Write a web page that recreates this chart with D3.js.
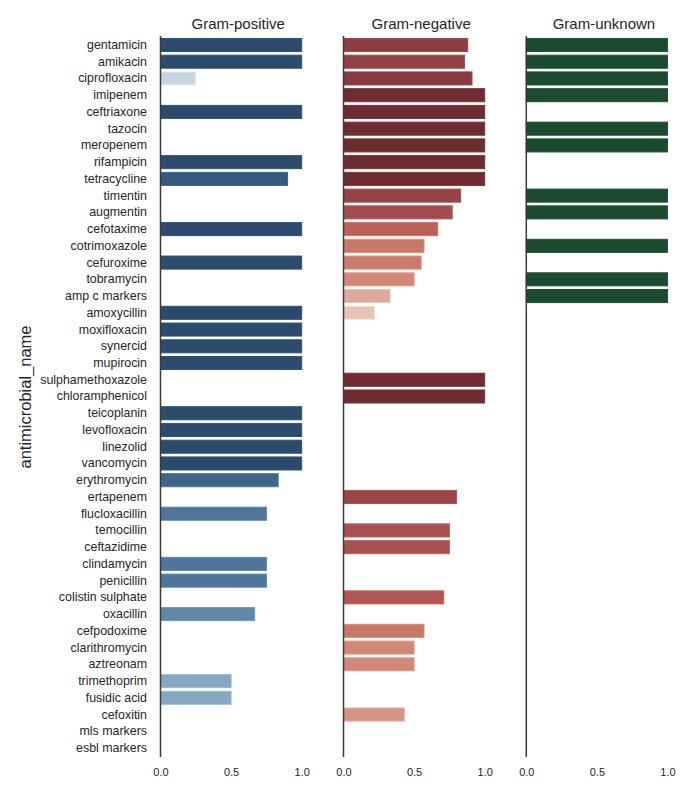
<!DOCTYPE html>
<html>
<head>
<meta charset="utf-8">
<script src="https://cdn.jsdelivr.net/npm/d3@7"></script>
<style>
  body { margin: 0; background: #fff; }
  text { font-family: "Liberation Sans", Arial, sans-serif; fill: #262626; }
</style>
</head>
<body>
<svg id="chart" width="700" height="800"></svg>
<script>
const categories = ["gentamicin","amikacin","ciprofloxacin","imipenem","ceftriaxone","tazocin","meropenem","rifampicin","tetracycline","timentin","augmentin","cefotaxime","cotrimoxazole","cefuroxime","tobramycin","amp c markers","amoxycillin","moxifloxacin","synercid","mupirocin","sulphamethoxazole","chloramphenicol","teicoplanin","levofloxacin","linezolid","vancomycin","erythromycin","ertapenem","flucloxacillin","temocillin","ceftazidime","clindamycin","penicillin","colistin sulphate","oxacillin","cefpodoxime","clarithromycin","aztreonam","trimethoprim","fusidic acid","cefoxitin","mls markers","esbl markers"];

const panels = ["Gram-positive","Gram-negative","Gram-unknown"];

const gramPositive = [1,1,0.25,null,1,null,null,1,0.9,null,null,1,null,1,null,null,1,1,1,1,null,null,1,1,1,1,0.833,null,0.75,null,null,0.75,0.75,null,0.667,null,null,null,0.5,0.5,null,null,null];

const gramNegative = [0.88,0.857,0.91,1,1,1,1,1,1,0.83,0.77,0.667,0.57,0.55,0.5,0.33,0.22,null,null,null,1,1,null,null,null,null,null,0.8,null,0.75,0.75,null,null,0.71,null,0.57,0.5,0.5,null,null,0.43,null,null];

const gramUnknown = [1,1,1,1,null,1,1,null,null,1,1,null,1,null,1,1,null,null,null,null,null,null,null,null,null,null,null,null,null,null,null,null,null,null,null,null,null,null,null,null,null,null,null];

const tickValues = [0, 0.5, 1.0];
const tickLabels = ["0.0", "0.5", "1.0"];

const seriesValues = [gramPositive, gramNegative, gramUnknown];

// colour ramps (value -> colour) per panel
const blueScale = d3.scaleLinear()
  .domain([0.25, 0.5, 0.667, 0.75, 0.833, 0.9, 1])
  .range(["#c6d5e1", "#85a8bf", "#5e88a5", "#4e7698", "#3f6589", "#345a7e", "#2b4a6c"]);
const redScale = d3.scaleLinear()
  .domain([0.22, 0.33, 0.43, 0.5, 0.57, 0.667, 0.71, 0.75, 0.8, 0.86, 0.91, 1])
  .range(["#e5c3b5", "#dcaa9a", "#d59585", "#d08878", "#c77868", "#bb6258", "#b05753", "#a84f50", "#9c4549", "#904044", "#8a3a3f", "#6e2b30"]);
const greenScale = () => "#1b4a2e";
const colorScales = [blueScale, redScale, greenScale];

const svg = d3.select("#chart");

const y = d3.scaleBand()
  .domain(categories)
  .range([36.6, 756.4])
  .paddingInner(0.22)
  .paddingOuter(0.11);

const panelX = [160.5, 343.5, 526.3];
const x = d3.scaleLinear().domain([0, 1.1]).range([0, 155.3]);

// y-axis labels
const yAxis = d3.axisLeft(y).tickSize(0).tickPadding(13.5);
const yg = svg.append("g").attr("transform", `translate(${panelX[0]},0)`).call(yAxis);
yg.select(".domain").remove();
yg.selectAll("text").style("font-size", "12.4px").attr("fill", "#262626");

panels.forEach((name, i) => {
  const g = svg.append("g").attr("transform", `translate(${panelX[i]},0)`);
  const vals = seriesValues[i];
  const data = categories.map((c, k) => ({ c, v: vals[k] })).filter(d => d.v != null);

  g.selectAll("rect").data(data).enter().append("rect")
    .attr("x", x(0))
    .attr("y", d => y(d.c))
    .attr("width", d => x(d.v) - x(0))
    .attr("height", y.bandwidth())
    .attr("fill", d => colorScales[i](d.v))
    .attr("stroke", d => d3.color(colorScales[i](d.v)).brighter(0.35))
    .attr("stroke-width", 1);

  // left spine
  g.append("line")
    .attr("x1", 0).attr("x2", 0)
    .attr("y1", 36).attr("y2", 757)
    .attr("stroke", "#3a3a3a").attr("stroke-width", 1.5);

  // x axis (no line, no ticks)
  const xAxis = d3.axisBottom(x).tickValues(tickValues)
    .tickFormat((d, k) => tickLabels[k]).tickSize(0).tickPadding(0);
  const xg = g.append("g").attr("transform", "translate(0,768)").call(xAxis);
  xg.select(".domain").remove();
  xg.selectAll("text").style("font-size", "11px").attr("fill", "#262626");

  // title
  g.append("text")
    .attr("x", x(0.55))
    .attr("y", 28.5)
    .attr("text-anchor", "middle")
    .style("font-size", "15px")
    .text(name);
});

// y-axis title
svg.append("text")
  .attr("transform", "translate(31,397) rotate(-90)")
  .attr("text-anchor", "middle")
  .style("font-size", "16.5px")
  .text("antimicrobial_name");
</script>
</body>
</html>
